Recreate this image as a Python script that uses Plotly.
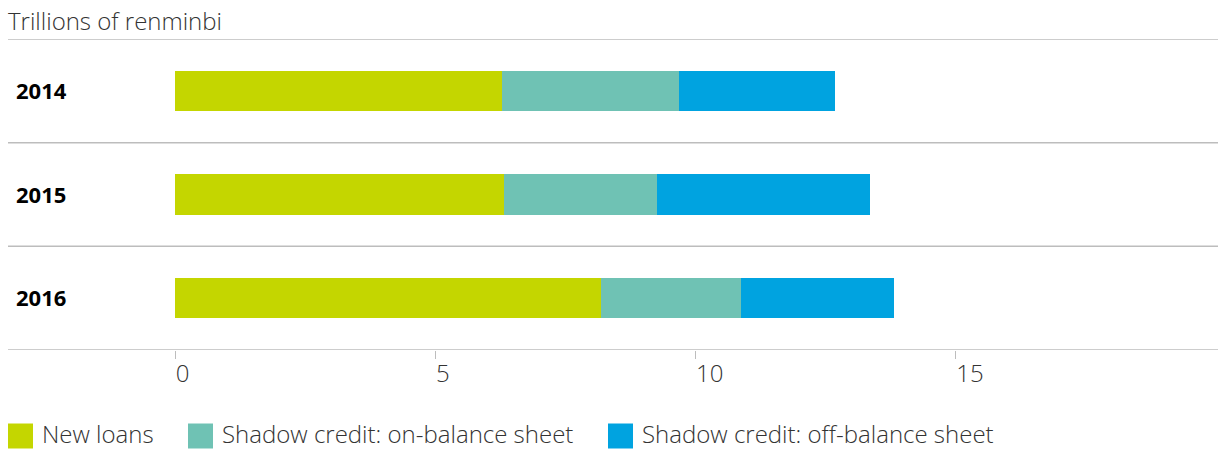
import plotly.graph_objects as go

years = ["2014", "2015", "2016"]
series_names = ["New loans", "Shadow credit: on-balance sheet", "Shadow credit: off-balance sheet"]
new_loans = [6.27, 6.31, 8.18]
on_balance = [3.42, 2.95, 2.69]
off_balance = [2.98, 4.09, 2.94]
colors = ["#C4D600", "#6FC2B4", "#00A3E0"]
x_ticks = [0, 5, 10, 15]
unit_label = "Trillions of renminbi"

FONT = "Open Sans"
fig = go.Figure()
for name, vals, col in zip(series_names, [new_loans, on_balance, off_balance], colors):
    fig.add_trace(go.Bar(
        y=years, x=vals, name=name, orientation="h",
        marker=dict(color=col, line=dict(width=0)),
        width=0.386, showlegend=False,
    ))

shapes = []
for yv in [-0.5, 0.5, 1.5, 2.5]:
    shapes.append(dict(type="line", xref="paper", x0=0, x1=1, yref="y", y0=yv, y1=yv,
                       line=dict(color="#bdbdbd", width=1.5), layer="below"))

annotations = []
n = len(years)
for i, yr in enumerate(years):
    annotations.append(dict(text=yr, xref="paper", x=0, xshift=6, xanchor="left",
                            yref="paper", y=1 - (i + 0.5) / n, yanchor="middle", yshift=1,
                            showarrow=False,
                            font=dict(family=FONT, size=22, color="#000", weight="bold")))
annotations.append(dict(text=unit_label, xref="paper", x=0, xshift=-2, xanchor="left",
                        yref="paper", y=1, yanchor="bottom", yshift=0, showarrow=False,
                        font=dict(family=FONT, size=24, color="#333", weight=300)))

# manual legend (pixel positions converted to paper coords)
plot_w = 1210.0
plot_h = 311.0
leg_x = [8, 188, 608]
for name, col, px in zip(series_names, colors, leg_x):
    x0 = (px - 8) / plot_w
    x1 = (px + 25 - 8) / plot_w
    shapes.append(dict(type="rect", xref="paper", yref="paper",
                       x0=x0, x1=x1, y0=(350 - 423.5) / plot_h, y1=(350 - 448.5) / plot_h,
                       fillcolor=col, line=dict(width=0)))
    annotations.append(dict(text=name, xref="paper", x=(px + 32 - 8) / plot_w, xanchor="left",
                            yref="paper", y=(350 - 433) / plot_h, yanchor="middle",
                            showarrow=False,
                            font=dict(family=FONT, size=24, color="#333", weight=300)))

fig.update_layout(
    barmode="stack",
    width=1218, height=450,
    margin=dict(l=8, r=0, t=39, b=100),
    paper_bgcolor="white", plot_bgcolor="white",
    shapes=shapes, annotations=annotations,
    xaxis=dict(range=[-3.215, 20.04], tickvals=x_ticks, showgrid=False, zeroline=False,
               showline=False, ticks="outside", ticklen=8, tickcolor="#bdbdbd", tickwidth=1,
               ticklabelposition="outside right",
               tickfont=dict(family=FONT, size=24, color="#333", weight=300),
               ticklabelstandoff=2),
    yaxis=dict(type="category", range=[2.5, -0.5], showticklabels=False, showgrid=False,
               zeroline=False, showline=False, ticks=""),
)

fig.write_html("out.html", config={"displayModeBar": False},
               post_script="document.body.style.margin='0px';document.body.style.overflow='hidden';")
